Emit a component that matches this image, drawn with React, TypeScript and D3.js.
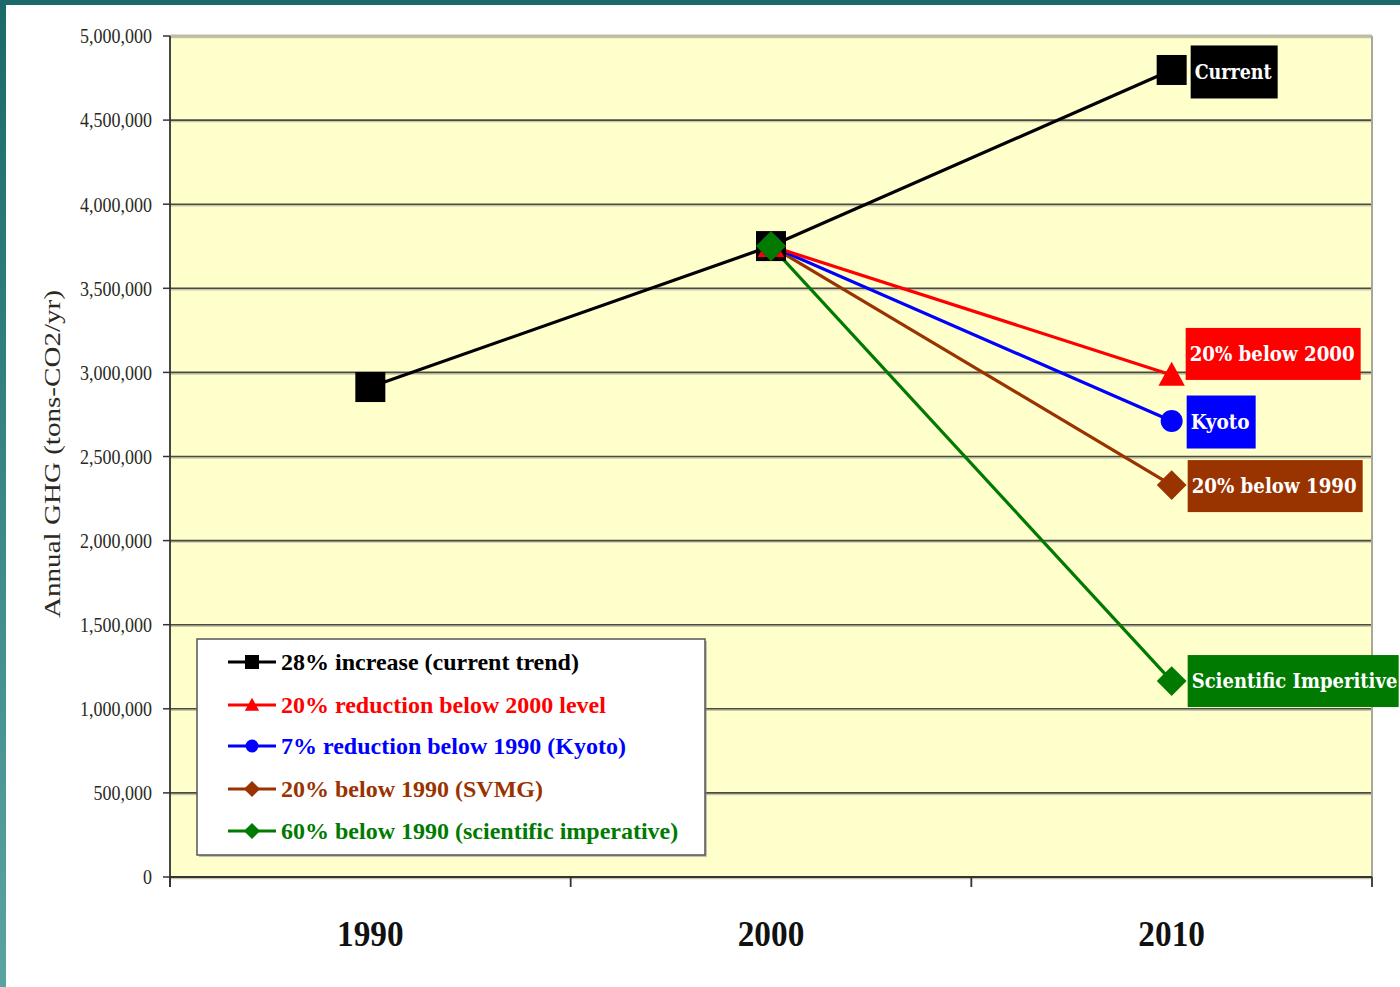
import React from "react";
import * as d3 from "d3";

const years = ["1990", "2000", "2010"];
const yTicks = [0, 500000, 1000000, 1500000, 2000000, 2500000, 3000000, 3500000, 4000000, 4500000, 5000000];

const currentTrend = [2913000, 3751000, 4798000];
const below2000 = [null, 3751000, 2985000];
const kyoto = [null, 3751000, 2711000];
const svmg = [null, 3751000, 2330000];
const scientific = [null, 3751000, 1165000];

const seriesNames = [
  "28% increase (current trend)",
  "20% reduction below 2000 level",
  "7% reduction below 1990 (Kyoto)",
  "20% below 1990 (SVMG)",
  "60% below 1990 (scientific imperative)",
];
const endLabels = ["Current", "20% below 2000", "Kyoto", "20% below 1990", "Scientific Imperitive"];
const colors = ["#000000", "#FF0000", "#0000FF", "#993300", "#007A00"];
const labelBg = ["#000000", "#FF0000", "#0000FF", "#993300", "#007A00"];
const markers = ["square", "triangle", "circle", "diamond", "diamond"];

const allSeries = [currentTrend, below2000, kyoto, svmg, scientific];

const W = 1400;
const H = 987;
const M = { left: 170, right: 1372, top: 36, bottom: 877 };

function Marker({ type, x, y, color, size }: { type: string; x: number; y: number; color: string; size: number }) {
  if (type === "square") {
    return <rect x={x - size / 2} y={y - size / 2} width={size} height={size} fill={color} />;
  }
  if (type === "circle") {
    return <circle cx={x} cy={y} r={size / 2} fill={color} />;
  }
  if (type === "triangle") {
    const h = size;
    return <path d={`M${x},${y - h * 0.55} L${x + h * 0.55},${y + h * 0.45} L${x - h * 0.55},${y + h * 0.45} Z`} fill={color} />;
  }
  const s = size * 0.62;
  return <path d={`M${x},${y - s} L${x + s},${y} L${x},${y + s} L${x - s},${y} Z`} fill={color} />;
}

export default function App() {
  const x = d3.scaleBand<string>().domain(years).range([M.left, M.right]).padding(0);
  const y = d3.scaleLinear().domain([0, 5000000]).range([M.bottom, M.top]);
  const fmt = d3.format(",");
  const cx = (i: number) => (x(years[i]) as number) + x.bandwidth() / 2;

  const line = d3
    .line<[number, number | null]>()
    .defined((d) => d[1] !== null)
    .x((d) => cx(d[0]))
    .y((d) => y(d[1] as number));

  const markerSizes = [30, 24, 22, 24, 24];

  const labelBoxes = [
    { dx: 19, dy: 2, w: 87, h: 53, fs: 20, fit: true },
    { dx: 14, dy: -21, w: 175, h: 52, fs: 20, fit: true },
    { dx: 15, dy: 1, w: 69, h: 53, fs: 20, fit: true },
    { dx: 16, dy: 1, w: 175, h: 52, fs: 20, fit: true },
    { dx: 16, dy: 0, w: 211, h: 52, fs: 18, fit: false },
  ];

  const legendX = 197;
  const legendY = 639;
  const legendRows = [662, 705, 746, 789, 831];

  const xTickPositions = [...years.map((d) => x(d) as number), M.right];
  const tickRight = 152;

  return (
    <div style={{ position: "absolute", left: 0, top: 0 }}>
      <svg width={W} height={H} style={{ display: "block" }}>
        <defs>
          <linearGradient id="leftBorder" x1="0" y1="0" x2="0" y2="1">
            <stop offset="0%" stopColor="#1B6A6A" />
            <stop offset="100%" stopColor="#5AA3A3" />
          </linearGradient>
        </defs>
        <rect x={0} y={0} width={W} height={H} fill="#FFFFFF" />
        <rect x={0} y={0} width={6} height={H} fill="url(#leftBorder)" />
        <rect x={0} y={0} width={W} height={5} fill="#1B6A6A" />

        <rect x={M.left} y={M.top} width={M.right - M.left} height={M.bottom - M.top} fill="#FFFFCC" />

        {yTicks.map((t) => (
          <g key={t}>
            <line x1={M.left} x2={M.right} y1={y(t) + 1.5} y2={y(t) + 1.5} stroke="#C8C8A8" strokeWidth={1.5} />
            <line x1={M.left} x2={M.right} y1={y(t)} y2={y(t)} stroke="#4A4A40" strokeWidth={1.6} />
          </g>
        ))}
        <line x1={M.left} x2={M.right} y1={M.top} y2={M.top} stroke="#BDBDA6" strokeWidth={3} />
        <line x1={M.right} x2={M.right} y1={M.top} y2={M.bottom} stroke="#A8A89A" strokeWidth={2} />

        <line x1={M.left} x2={M.left} y1={M.top} y2={M.bottom + 10} stroke="#333" strokeWidth={1.8} />
        {yTicks.map((t) => (
          <g key={"yt" + t}>
            <line x1={M.left - 7} x2={M.left} y1={y(t)} y2={y(t)} stroke="#333" strokeWidth={1.5} />
            <text
              x={tickRight}
              y={y(t)}
              dy="0.35em"
              textAnchor="end"
              fontFamily="Liberation Serif, serif"
              fontSize={20}
              fill="#2A2A22"
              transform={`translate(${tickRight},${y(t)}) scale(0.9,1.05) translate(${-tickRight},${-y(t)})`}
            >
              {fmt(t)}
            </text>
          </g>
        ))}
        <text
          transform={`translate(60,454) rotate(-90)`}
          textAnchor="middle"
          fontFamily="Liberation Serif, serif"
          fontSize={24}
          fill="#2A2A22"
          textLength={328}
          lengthAdjust="spacingAndGlyphs"
        >
          Annual GHG (tons-CO2/yr)
        </text>

        <line x1={M.left} x2={M.right} y1={M.bottom} y2={M.bottom} stroke="#333" strokeWidth={2} />
        {xTickPositions.map((p, i) => (
          <line key={"xt" + i} x1={p} x2={p} y1={M.bottom} y2={M.bottom + 10} stroke="#333" strokeWidth={1.8} />
        ))}
        {years.map((yr, i) => (
          <text
            key={yr}
            x={cx(i)}
            y={946}
            textAnchor="middle"
            fontFamily="Liberation Serif, serif"
            fontWeight="bold"
            fontSize={34}
            fill="#111"
            transform={`translate(${cx(i)},946) scale(0.98,1.05) translate(${-cx(i)},-946)`}
          >
            {yr}
          </text>
        ))}

        {allSeries
          .map((s, si) => ({ s, si }))
          .reverse()
          .map(({ s, si }) => (
            <path
              key={"l" + si}
              d={line(s.map((v, i) => [i, v] as [number, number | null])) || ""}
              fill="none"
              stroke={colors[si]}
              strokeWidth={3.2}
            />
          ))}
        {allSeries.map((s, si) =>
          s.map((v, i) =>
            v === null ? null : (
              <Marker
                key={"m" + si + "-" + i}
                type={markers[si]}
                x={cx(i)}
                y={y(v)}
                color={colors[si]}
                size={markerSizes[si]}
              />
            )
          )
        )}

        {allSeries.map((s, si) => {
          const v = s[2] as number;
          const b = labelBoxes[si];
          const bx = cx(2) + b.dx;
          const by = y(v) - b.h / 2 + b.dy;
          const ty = by + b.h / 2;
          return (
            <g key={"lab" + si}>
              <rect x={bx} y={by} width={b.w} height={b.h} fill={labelBg[si]} />
              {b.fit ? (
                <text
                  x={bx + 4}
                  y={ty}
                  dy="0.35em"
                  fontFamily="DejaVu Serif, serif"
                  fontWeight="bold"
                  fontSize={b.fs}
                  fill="#FFFFFF"
                  textLength={b.w - 10}
                  lengthAdjust="spacingAndGlyphs"
                >
                  {endLabels[si]}
                </text>
              ) : (
                <text
                  x={bx + 4}
                  y={ty}
                  dy="0.35em"
                  fontFamily="DejaVu Serif, serif"
                  fontWeight="bold"
                  fontSize={b.fs}
                  fill="#FFFFFF"
                  transform={`translate(0,${ty}) scale(1,1.12) translate(0,${-ty})`}
                >
                  {endLabels[si]}
                </text>
              )}
            </g>
          );
        })}

        <rect x={legendX + 2} y={legendY + 2} width={508} height={216} fill="#888" opacity={0.5} />
        <rect x={legendX} y={legendY} width={508} height={216} fill="#FFFFFF" stroke="#555" strokeWidth={1.5} />
        {seriesNames.map((name, i) => (
          <g key={"lg" + i}>
            <line x1={228} x2={276} y1={legendRows[i]} y2={legendRows[i]} stroke={colors[i]} strokeWidth={3.2} />
            <Marker type={markers[i]} x={252} y={legendRows[i]} color={colors[i]} size={i === 0 ? 14 : 13} />
            <text
              x={281}
              y={legendRows[i]}
              dy="0.35em"
              fontFamily="Liberation Serif, serif"
              fontWeight="bold"
              fontSize={24}
              fill={colors[i]}
            >
              {name}
            </text>
          </g>
        ))}
      </svg>
    </div>
  );
}
